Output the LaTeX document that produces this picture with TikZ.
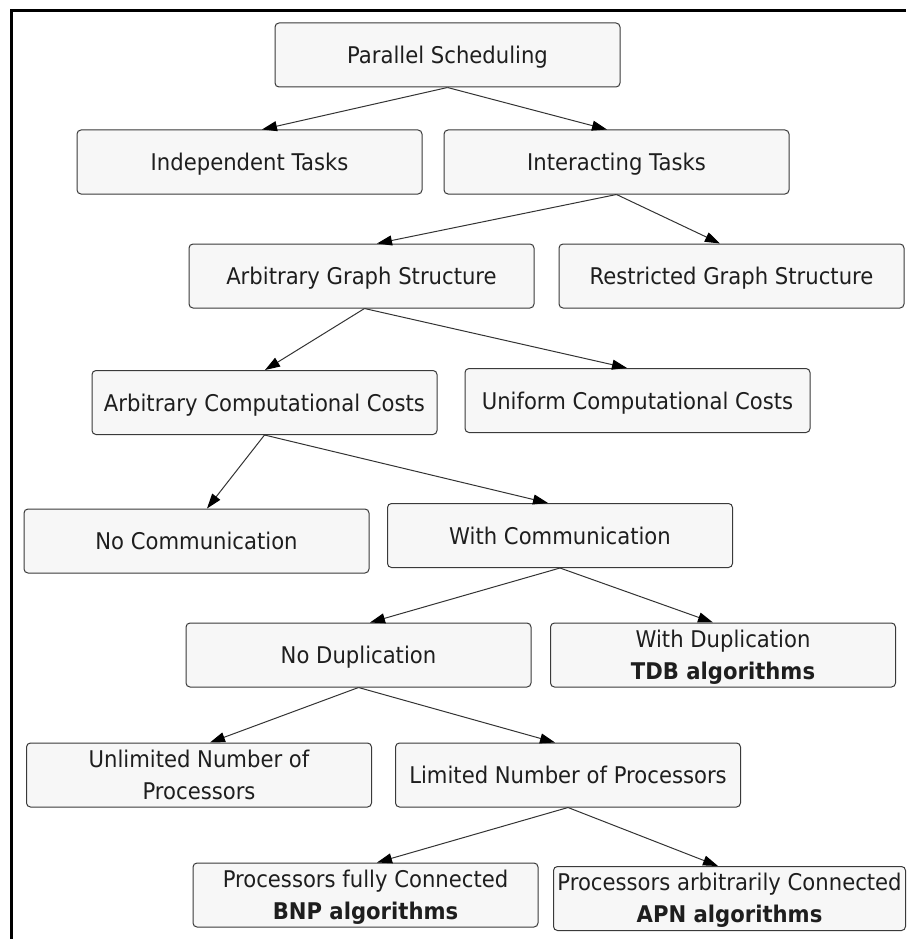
\documentclass[tikz,border=0pt]{standalone}
\usepackage{fontspec}
\setmainfont[FakeStretch=0.92]{DejaVu Sans}
\usetikzlibrary{arrows.meta}
\definecolor{boxfill}{HTML}{F7F7F7}
\definecolor{boxline}{HTML}{3A3A3A}
\definecolor{inkcol}{HTML}{1E1E1E}
\definecolor{linkcol}{HTML}{333333}
\begin{document}
\begin{tikzpicture}[x=1pt,y=-1pt,
  box/.style={draw=boxline, fill=boxfill, line width=1pt, rounded corners=4pt,
    minimum width=345pt, minimum height=64pt, inner sep=1pt, text=inkcol,
    font=\fontsize{23}{32}\selectfont, text height=17pt, text depth=0pt},
  twoline/.style={align=center, text height=53pt, text depth=5pt},
  link/.style={draw=linkcol, line width=1pt, -{Triangle[length=15pt,width=10pt,color=black]}}]
\useasboundingbox (0,0) rectangle (906,939);
% outer frame (left and top edges)
\draw[line width=3pt] (11,939) -- (11,11) -- (906,11);

% classification boxes
\node[box] (ps)    at (447.5,55)  {Parallel Scheduling};
\node[box] (ind)   at (249.5,162) {Independent Tasks};
\node[box] (inter) at (616.5,162) {Interacting Tasks};
\node[box] (ags)   at (361.5,276) {Arbitrary Graph Structure};
\node[box] (rgs)   at (731.5,276) {Restricted Graph Structure};
\node[box] (acc)   at (264.5,402.5) {Arbitrary Computational Costs};
\node[box] (ucc)   at (637.5,400.5) {Uniform Computational Costs};
\node[box] (nc)    at (196.5,541) {No Communication};
\node[box] (wc)    at (560,535.5) {With Communication};
\node[box] (nd)    at (358.5,655) {No Duplication};
\node[box,twoline] (wd)  at (723,655) {With Duplication\\\textbf{TDB algorithms}};
\node[box,twoline] (unl) at (199,775) {Unlimited Number of\\Processors};
\node[box] (lim)   at (568,775)   {Limited Number of Processors};
\node[box,twoline] (pfc) at (365.5,895) {Processors fully Connected\\\textbf{BNP algorithms}};
\node[box,twoline,minimum width=352pt] (pac) at (729.5,898.5) {Processors arbitrarily Connected\\\textbf{APN algorithms}};

% tree connectors
\draw[link] (ps.south)    -- ([xshift=12.5pt]ind.north);
\draw[link] (ps.south)    -- ([xshift=-9.5pt]inter.north);
\draw[link] (inter.south) -- ([xshift=15.5pt]ags.north);
\draw[link] (inter.south) -- ([xshift=-11.5pt]rgs.north);
\draw[link] ([xshift=3pt]ags.south) -- ([xshift=0.5pt]acc.north);
\draw[link] ([xshift=3pt]ags.south) -- ([xshift=-10.5pt]ucc.north);
\draw[link] (acc.south)   -- ([xshift=10.5pt]nc.north);
\draw[link] (acc.south)   -- ([xshift=-12pt]wc.north);
\draw[link] (wc.south)    -- ([xshift=11.5pt]nd.north);
\draw[link] (wc.south)    -- ([xshift=-10pt]wd.north);
\draw[link] (nd.south)    -- ([xshift=11pt]unl.north);
\draw[link] (nd.south)    -- ([xshift=-13pt]lim.north);
\draw[link] (lim.south)   -- ([xshift=11.5pt]pfc.north);
\draw[link] (lim.south)   -- ([xshift=-11.5pt]pac.north);
\end{tikzpicture}
\end{document}
